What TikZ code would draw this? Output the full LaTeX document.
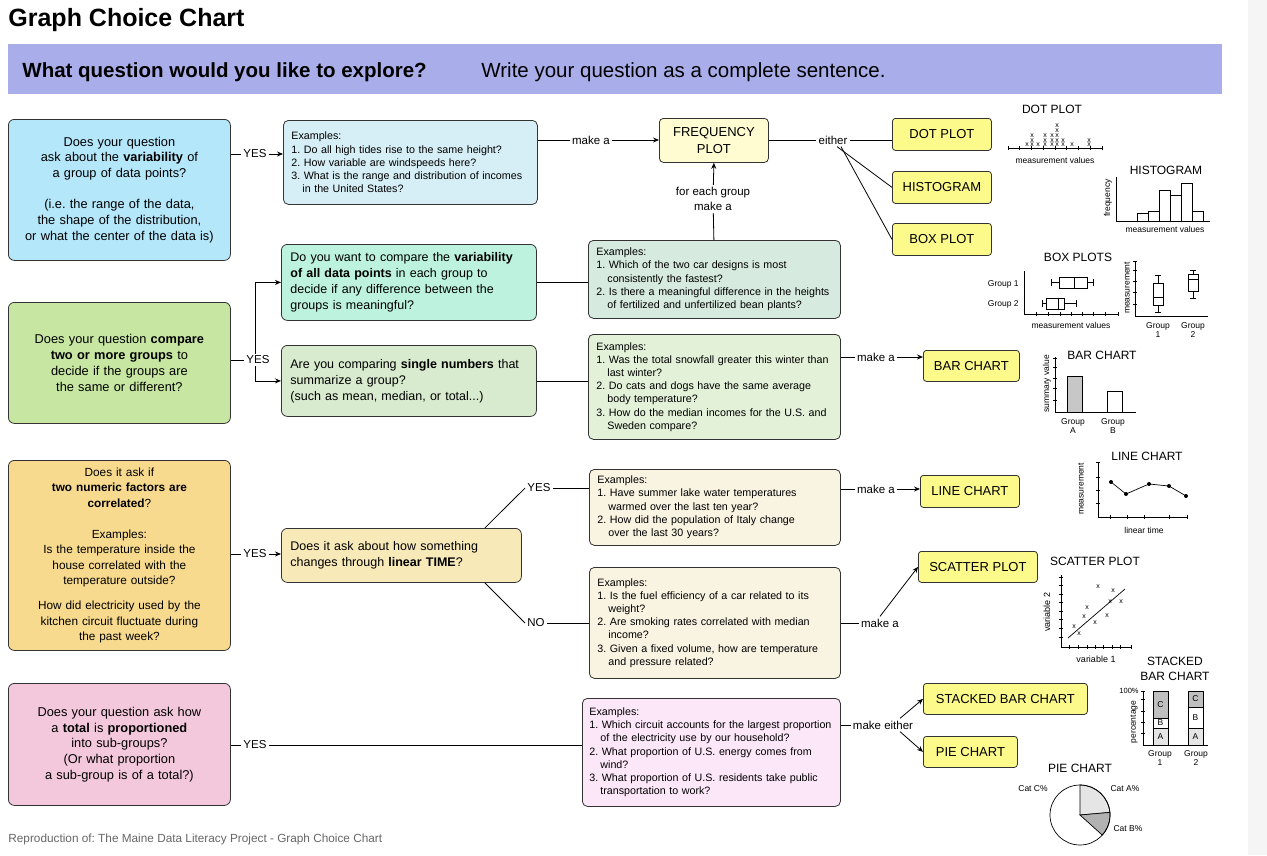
\documentclass[tikz,border=0pt]{standalone}
\usepackage{fontspec}
\setmainfont{Liberation Sans}
\usetikzlibrary{arrows.meta}

\definecolor{hdrblue}{HTML}{A9AEEA}
\definecolor{varblue}{HTML}{B5E7FA}
\definecolor{cmpgreen}{HTML}{C6E6A1}
\definecolor{corrorange}{HTML}{F7DA8E}
\definecolor{proppink}{HTML}{F4C8DC}
\definecolor{exblue}{HTML}{D6EEF5}
\definecolor{mint}{HTML}{BCF2DE}
\definecolor{sage}{HTML}{D8EBCE}
\definecolor{timecream}{HTML}{F8E9B9}
\definecolor{exmint}{HTML}{D6EADF}
\definecolor{exgreen}{HTML}{E3F1D9}
\definecolor{excream}{HTML}{F9F3E2}
\definecolor{expink}{HTML}{FCE7F9}
\definecolor{freqyellow}{HTML}{FEFCD0}
\definecolor{chartyellow}{HTML}{FDFA8C}
\definecolor{edge}{HTML}{333333}

\newcommand{\excont}{\hspace*{11pt}}

\tikzset{
  qbox/.style={draw=edge, line width=0.8pt, rounded corners=6pt, anchor=north west, align=center,
    inner xsep=4pt, inner ysep=0pt, font=\fontsize{12.8}{15.7}\selectfont},
  askbox/.style={qbox, align=left, inner xsep=9pt, font=\fontsize{12.5}{16}\selectfont},
  exbox/.style={qbox, align=left, inner xsep=8pt, rounded corners=5pt, font=\fontsize{10.7}{13.2}\selectfont},
  chartbox/.style={qbox, fill=chartyellow, rounded corners=3pt, inner sep=0pt, font=\fontsize{13}{16.7}\selectfont},
  tag/.style={inner sep=2pt, font=\fontsize{11.5}{15}\selectfont, align=center},
  ctitle/.style={inner sep=0pt, font=\fontsize{12}{15}\selectfont, align=center},
  clabel/.style={inner sep=0pt, font=\fontsize{8.5}{9.8}\selectfont, align=center},
  crossmark/.style={inner sep=0pt, font=\fontsize{7}{7}\selectfont}
}

\begin{document}
\frenchspacing
\begin{tikzpicture}[x=1pt,y=-1pt,>={Stealth[length=6pt,width=5pt]},line width=0.8pt]
\useasboundingbox (0,0) rectangle (1267,855);
\fill[black!4] (1248,0) rectangle (1267,855);

\node[anchor=base west, inner sep=0pt, font=\bfseries\fontsize{25}{30}\selectfont] (title) at (8,26) {Graph Choice Chart};
\fill[hdrblue] (8,44) rectangle (1222,94);
\node[anchor=base west, inner sep=0pt, font=\bfseries\fontsize{20.5}{24}\selectfont] (explore) at (22,77) {What question would you like to explore?};
\node[anchor=base west, inner sep=0pt, font=\fontsize{20.5}{24}\selectfont] (sentence) at (481,77) {Write your question as a complete sentence.};

\node[qbox, fill=varblue, text width=214pt, minimum height=141pt] (qvar) at (8,119) {Does your question\\ ask about the \textbf{variability} of\\ a group of data points?\\[15.7pt] (i.e. the range of the data,\\ the shape of the distribution,\\ or what the center of the data is)};
\node[qbox, fill=cmpgreen, text width=214pt, minimum height=121pt] (qcomp) at (8,302) {Does your question \textbf{compare}\\ \textbf{two or more groups} to\\ decide if the groups are\\ the same or different?};
\node[qbox, fill=corrorange, text width=214pt, minimum height=190pt, font=\fontsize{11.8}{15.5}\selectfont] (qcorr) at (8,460) {Does it ask if\\ \textbf{two numeric factors are}\\ \textbf{correlated}?\\[15.5pt] Examples:\\ Is the temperature inside the\\ house correlated with the\\ temperature outside?\\[9.5pt] How did electricity used by the\\ kitchen circuit fluctuate during\\ the past week?};
\node[qbox, fill=proppink, text width=214pt, minimum height=122pt] (qprop) at (8,683) {Does your question ask how\\ a \textbf{total} is \textbf{proportioned}\\ into sub-groups?\\ (Or what proportion\\ a sub-group is of a total?)};

\node[exbox, fill=exblue, text width=238pt, minimum height=84pt] (exvar) at (283,120) {Examples:\\ 1. Do all high tides rise to the same height?\\ 2. How variable are windspeeds here?\\ 3. What is the range and distribution of incomes\\ \excont in the United States?};
\node[askbox, fill=mint, text width=237pt, minimum height=76pt] (qspread) at (281,244) {Do you want to compare the \textbf{variability}\\ \textbf{of all data points} in each group to\\ decide if any difference between the\\ groups is meaningful?};
\node[askbox, fill=sage, text width=237pt, minimum height=71pt] (qsingle) at (281,345) {Are you comparing \textbf{single numbers} that\\ summarize a group?\\ (such as mean, median, or total...)};
\node[askbox, fill=timecream, text width=222pt, minimum height=54pt] (qtime) at (281,528) {Does it ask about how something\\ changes through \textbf{linear TIME}?};

\node[exbox, fill=exmint, text width=236pt, minimum height=78pt] (exspread) at (588,240) {Examples:\\ 1. Which of the two car designs is most\\ \excont consistently the fastest?\\ 2. Is there a meaningful difference in the heights\\ \excont of fertilized and unfertilized bean plants?};
\node[exbox, fill=exgreen, text width=236pt, minimum height=105pt] (exsingle) at (588,334) {Examples:\\ 1. Was the total snowfall greater this winter than\\ \excont last winter?\\ 2. Do cats and dogs have the same average\\ \excont body temperature?\\ 3. How do the median incomes for the U.S. and\\ \excont Sweden compare?};
\node[exbox, fill=excream, text width=235pt, minimum height=76pt] (exline) at (589,469) {Examples:\\ 1. Have summer lake water temperatures\\ \excont warmed over the last ten year?\\ 2. How did the population of Italy change\\ \excont over the last 30 years?};
\node[exbox, fill=excream, text width=235pt, minimum height=111pt] (exscatter) at (589,567) {Examples:\\ 1. Is the fuel efficiency of a car related to its\\ \excont weight?\\ 2. Are smoking rates correlated with median\\ \excont income?\\ 3. Given a fixed volume, how are temperature\\ \excont and pressure related?};
\node[exbox, fill=expink, inner xsep=7pt, text width=244pt, minimum height=108pt] (exprop) at (582,698) {Examples:\\ 1. Which circuit accounts for the largest proportion\\ \excont of the electricity use by our household?\\ 2. What proportion of U.S. energy comes from\\ \excont wind?\\ 3. What proportion of U.S. residents take public\\ \excont transportation to work?};

\node[qbox, fill=freqyellow, rounded corners=4pt, text width=101pt, minimum height=44pt, font=\fontsize{13}{16.7}\selectfont] (freq) at (659,118) {FREQUENCY\\ PLOT};
\node[chartbox, minimum width=99pt, minimum height=32pt] (dot) at (892,118) {DOT PLOT};
\node[chartbox, minimum width=99pt, minimum height=32pt] (hist) at (892,171) {HISTOGRAM};
\node[chartbox, minimum width=99pt, minimum height=32pt] (boxp) at (892,223) {BOX PLOT};
\node[chartbox, minimum width=96pt, minimum height=31pt] (bar) at (923,350) {BAR CHART};
\node[chartbox, minimum width=99pt, minimum height=32pt] (linech) at (920,475) {LINE CHART};
\node[chartbox, minimum width=119pt, minimum height=31pt] (scat) at (918,551) {SCATTER PLOT};
\node[chartbox, minimum width=164pt, minimum height=31pt] (stack) at (923,683) {STACKED BAR CHART};
\node[chartbox, minimum width=94pt, minimum height=31pt] (pie) at (923,736) {PIE CHART};

\node[tag] (yes1) at (255,154) {YES};
\node[tag] (mk1) at (591,140) {make a};
\node[tag] (either) at (833,140) {either};
\node[tag] (each) at (713,199) {for each group\\ make a};
\node[tag] (yes2) at (258,360) {YES};
\node[tag] (mk2) at (876,357) {make a};
\node[tag] (yes3) at (255,554) {YES};
\node[tag] (yest) at (539,488) {YES};
\node[tag] (not) at (536,623) {NO};
\node[tag] (mk3) at (876,489) {make a};
\node[tag] (mk4) at (880,623) {make a};
\node[tag] (yes4) at (255,745) {YES};
\node[tag] (mke) at (883,725) {make either};

\draw (qvar.east |- yes1) -- (yes1);
\draw[->] (yes1) -- (exvar.west |- yes1);
\draw (exvar.east |- mk1) -- (mk1);
\draw[->] (mk1) -- (freq.west |- mk1);
\draw (freq.east |- either) -- (either);
\draw (either) -- (dot.west |- either);
\draw ([xshift=4pt]either.south) -- (hist.west);
\draw ([xshift=8pt]either.south) -- (boxp.west);
\draw (freq.south |- exspread.north) -- (each);
\draw[->] (each) -- (freq.south);
\draw (qcomp.east |- yes2) -- (yes2);
\draw[->] ([xshift=-3pt]yes2.north) |- (qspread.west);
\draw[->] ([xshift=-3pt]yes2.south) |- (qsingle.west);
\draw (qspread.east) -- (exspread.west |- qspread.east);
\draw (qsingle.east) -- (exsingle.west |- qsingle.east);
\draw (exsingle.east |- mk2) -- (mk2);
\draw[->] (mk2) -- (bar.west |- mk2);
\draw (qcorr.east |- yes3) -- (yes3);
\draw[->] (yes3) -- (qtime.west |- yes3);
\draw ([xshift=-37pt]qtime.north east) -- (yest.west);
\draw (yest) -- (exline.west |- yest);
\draw ([xshift=-37pt]qtime.south east) -- (not.west);
\draw (not) -- (exscatter.west |- not);
\draw (exline.east |- mk3) -- (mk3);
\draw[->] (mk3) -- (linech.west |- mk3);
\draw (exscatter.east |- mk4) -- (mk4);
\draw[->] (mk4.north) -- (scat.west);
\draw (qprop.east |- yes4) -- (yes4);
\draw (yes4) -- (exprop.west |- yes4);
\draw (exprop.east |- mke) -- (mke);
\draw[->] ([xshift=17pt]mke.north) -- (stack.west);
\draw[->] ([xshift=17pt]mke.south) -- (pie.west);

\begin{scope}[line width=0.7pt]
\node[ctitle] (dottitle) at (1052,109) {DOT PLOT};
\draw (1008,148) -- (1102,148);
\foreach \t in {0,...,8} \draw (1008+11.75*\t,146) -- (1008+11.75*\t,150);
\foreach \px/\n in {1027/1,1032/3,1038/1,1045/3,1052/3,1057/5,1063/2,1072/1,1089/2}
  \foreach \k in {1,...,\n} \node[crossmark] at (\px,149.8-4.8*\k) {x};
\node[clabel] (dotx) at (1055,160) {measurement values};

\node[ctitle] (histtitle) at (1166,170) {HISTOGRAM};
\draw (1116,177) -- (1116,221) -- (1210,221);
\foreach \a/\h in {1137/213,1148/211,1159/190,1170/195,1181/183,1192/211} \draw (\a,221) rectangle (\a+11,\h);
\node[clabel, rotate=90] (histy) at (1108,198) {frequency};
\node[clabel] (histx) at (1165,229) {measurement values};

\node[ctitle] (boxtitle) at (1078,257) {BOX PLOTS};
\draw (1024,271) -- (1024,314) -- (1118,314);
\foreach \t in {1036,1048,1060,1071,1082,1093,1105,1118} \draw (\t,312) -- (\t,316);
\node[clabel, anchor=east] (grp1) at (1019,284) {Group 1};
\node[clabel, anchor=east] (grp2) at (1019,304) {Group 2};
\draw (1051,282.5) -- (1059,282.5) (1087,282.5) -- (1093,282.5) (1051,279) -- (1051,286) (1093,279) -- (1093,286)
  (1059,277) rectangle (1087,288) (1074,277) -- (1074,288);
\draw (1042,303.5) -- (1046,303.5) (1064,303.5) -- (1076,303.5) (1042,300) -- (1042,307) (1076,300) -- (1076,307)
  (1046,298) rectangle (1064,309) (1058,298) -- (1058,309);
\node[clabel] (boxx) at (1071,325) {measurement values};
\draw (1135,261) -- (1135,316) -- (1208,316);
\foreach \t in {261,270,281,292,304} \draw (1133,\t) -- (1137,\t);
\draw (1158,275) -- (1158,283) (1158,305) -- (1158,312) (1155,275) -- (1161,275) (1155,312) -- (1161,312)
  (1153,283) rectangle (1163,305) (1153,297) -- (1163,297);
\draw (1193,270) -- (1193,274) (1193,291) -- (1193,298) (1190,270) -- (1196,270) (1190,298) -- (1196,298)
  (1188,274) rectangle (1198,291) (1188,279) -- (1198,279);
\node[clabel, rotate=90] (boxy) at (1127,288) {measurement};
\node[clabel] (bgrp1) at (1158,330) {Group\\1};
\node[clabel] (bgrp2) at (1193,330) {Group\\2};

\node[ctitle] (bartitle) at (1102,355) {BAR CHART};
\draw (1055,357) -- (1055,412) -- (1136,412);
\foreach \t in {358,367,378,388,400} \draw (1053,\t) -- (1057,\t);
\filldraw[fill=black!22] (1067,412) rectangle (1082,376);
\draw (1107,412) rectangle (1122,391);
\node[clabel, rotate=90] (bary) at (1047,384) {summary value};
\node[clabel] (grpa) at (1073,426) {Group\\A};
\node[clabel] (grpb) at (1113,426) {Group\\B};

\node[ctitle] (linetitle) at (1147,456) {LINE CHART};
\draw (1098,462) -- (1098,517) -- (1187,517);
\foreach \t in {462,477,490,503} \draw (1096,\t) -- (1100,\t);
\foreach \t in {1110,1127,1144,1169,1187} \draw (\t,515) -- (\t,519);
\draw (1111,482) -- (1126,494) -- (1149,484) -- (1169,486) -- (1186,496);
\foreach \a/\b in {1111/482,1126/494,1149/484,1169/486,1186/496} \fill (\a,\b) circle[radius=2pt];
\node[clabel, rotate=90] (liney) at (1081,489) {measurement};
\node[clabel] (linex) at (1144,530) {linear time};

\node[ctitle] (scattitle) at (1095,561) {SCATTER PLOT};
\draw (1061,575) -- (1061,647) -- (1131,647);
\foreach \t in {577,585,594,602,611,619,628,637} \draw (1059,\t) -- (1063,\t);
\foreach \t in {1069,1078,1087,1095,1103,1112,1120,1131} \draw (\t,645) -- (\t,649);
\draw (1068,638) -- (1125,589);
\foreach \a/\b in {1098/587,1113/591,1121/602,1110/602,1087/608,1084/617,1107/616,1095/623,1074/627,1079/634}
  \node[crossmark] at (\a,\b) {x};
\node[clabel, rotate=90, font=\fontsize{9}{10}\selectfont] (scaty) at (1047,612) {variable 2};
\node[clabel, font=\fontsize{9}{10}\selectfont] (scatx) at (1096,659) {variable 1};

\node[ctitle] (stacktitle) at (1175,669) {STACKED\\ BAR CHART};
\draw (1143,691) -- (1143,745) -- (1208,745);
\foreach \t in {691,699,711,722,733} \draw (1141,\t) -- (1145,\t);
\foreach \s/\c/\b in {1153/718/728,1188/707/728} {
  \filldraw[fill=black!25] (\s,691) rectangle (\s+15,\c);
  \draw (\s,\c) rectangle (\s+15,\b);
  \filldraw[fill=black!10] (\s,\b) rectangle (\s+15,745);
  \node[clabel] at ({\s+7.5},{(691+\c)/2}) {C};
  \node[clabel] at ({\s+7.5},{(\c+\b)/2}) {B};
  \node[clabel] at ({\s+7.5},{(\b+745)/2}) {A};
}
\node[clabel, anchor=east, font=\fontsize{7.5}{8}\selectfont] (full) at (1139,691) {100\%};
\node[clabel, rotate=90] (stacky) at (1134,722) {percentage};
\node[clabel] (sgrp1) at (1160,758) {Group\\1};
\node[clabel] (sgrp2) at (1196,758) {Group\\2};

\node[ctitle] (pietitle) at (1080,768) {PIE CHART};
\filldraw[fill=black!10] (1080,815) -- ++(90:30pt) arc[start angle=90, end angle=5, radius=30pt] -- cycle;
\filldraw[fill=black!30] (1080,815) -- ++(5:30pt) arc[start angle=5, end angle=-42, radius=30pt] -- cycle;
\draw (1080,815) circle[radius=30pt];
\node[clabel] (catc) at (1033,789) {Cat C\%};
\node[clabel] (cata) at (1125,789) {Cat A\%};
\node[clabel] (catb) at (1128,829) {Cat B\%};
\end{scope}

\node[anchor=base west, inner sep=0pt, text=black!60, font=\fontsize{11.8}{14}\selectfont] (credit) at (8,842) {Reproduction of: The Maine Data Literacy Project - Graph Choice Chart};
\end{tikzpicture}
\end{document}
